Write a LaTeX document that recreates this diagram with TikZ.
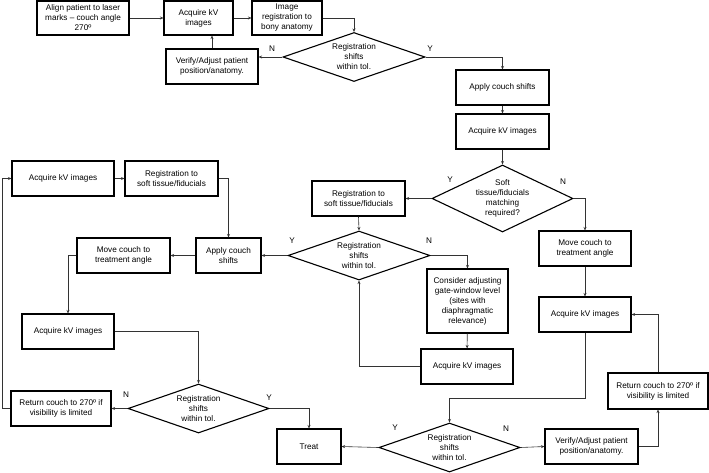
\documentclass[tikz,border=0pt]{standalone}
\usepackage{fontspec}
\setmainfont{Liberation Sans}
\usetikzlibrary{shapes.geometric,arrows.meta}
\begin{document}
\begin{tikzpicture}[x=1pt,y=-1pt,
  every node/.style={font=\fontsize{8.2}{10}\selectfont},
  box/.style={draw=black,line width=1.1pt,rectangle,align=center,inner sep=1pt},
  dec/.style={draw=black,line width=1.1pt,diamond,align=center,inner sep=0pt,aspect=2.8},
  conn/.style={draw=black!80,line width=0.6pt,-{Stealth[length=3.5pt,width=3pt]}},
  lab/.style={inner sep=0pt}]
\useasboundingbox (0,0) rectangle (709,472);
% top row
\node[box,minimum width=92pt,minimum height=34pt] (align) at (83,18) {Align patient to laser\\marks -- couch angle\\270º};
\node[box,minimum width=69pt,minimum height=34pt] (acq1) at (198.5,18) {Acquire kV\\images};
\node[box,minimum width=70pt,minimum height=34pt] (imreg) at (287,18) {Image\\registration to\\bony anatomy};
\node[dec,minimum width=142pt,minimum height=49pt] (dia1) at (354,57) {Registration\\shifts\\within tol.};
\node[box,minimum width=92pt,minimum height=35pt] (verify1) at (212,66.5) {Verify/Adjust patient\\position/anatomy.};
\node[box,minimum width=93pt,minimum height=35pt] (apply1) at (502.5,87.5) {Apply couch shifts};
\node[box,minimum width=93pt,minimum height=35pt] (acq2) at (502.5,131.5) {Acquire kV images};
\node[dec,aspect=2.1,minimum width=141pt,minimum height=67pt] (dia2) at (502.5,198.5) {Soft\\tissue/fiducials\\matching\\required?};
\node[box,minimum width=93pt,minimum height=35pt] (regsoft1) at (358.5,198.5) {Registration to\\soft tissue/fiducials};
\node[box,minimum width=92pt,minimum height=35pt] (move1) at (585,248.5) {Move couch to\\treatment angle};
\node[dec,minimum width=142pt,minimum height=49pt] (dia3) at (359,255.5) {Registration\\shifts\\within tol.};
\node[box,minimum width=81pt,minimum height=64pt] (consider) at (467.5,301) {Consider adjusting\\gate-window level\\(sites with\\diaphragmatic\\relevance)};
\node[box,minimum width=92pt,minimum height=35pt] (acq3) at (585,314.5) {Acquire kV images};
\node[box,minimum width=92pt,minimum height=35pt] (acq4) at (467,366.5) {Acquire kV images};
\node[dec,minimum width=141pt,minimum height=49pt] (dia4) at (449.5,447.5) {Registration\\shifts\\within tol.};
\node[box,minimum width=64pt,minimum height=35pt] (treat) at (309,446.5) {Treat};
\node[box,minimum width=93pt,minimum height=35pt] (verify2) at (591.5,446.5) {Verify/Adjust patient\\position/anatomy.};
\node[box,minimum width=100pt,minimum height=36pt] (return2) at (658,391) {Return couch to 270º if\\visibility is limited};
% left side
\node[box,minimum width=102pt,minimum height=35pt] (acqL1) at (63,178.5) {Acquire kV images};
\node[box,minimum width=93pt,minimum height=35pt] (regL) at (171.5,178.5) {Registration to\\soft tissue/fiducials};
\node[box,minimum width=65pt,minimum height=35pt] (applyL) at (228.5,255.5) {Apply couch\\shifts};
\node[box,minimum width=93pt,minimum height=35pt] (moveL) at (123.5,255.5) {Move couch to\\treatment angle};
\node[box,minimum width=92pt,minimum height=35pt] (acqL2) at (68,331.5) {Acquire kV images};
\node[dec,minimum width=141pt,minimum height=49pt] (dia5) at (198.5,408.5) {Registration\\shifts\\within tol.};
\node[box,minimum width=100pt,minimum height=35pt] (returnL) at (61,408.5) {Return couch to 270º if\\visibility is limited};
% helper coordinates
\coordinate (k1) at (585,398);
\coordinate (k2) at (2,408.5);
% connectors
\draw[conn] (align) -- (acq1);
\draw[conn] (acq1) -- (imreg);
\draw[conn] (imreg.east) -| (dia1.north);
\draw[conn] (dia1.west) -- (dia1.west -| verify1.east);
\draw[conn] (verify1.north) -- (verify1.north |- acq1.south);
\draw[conn] (dia1.east) -| (apply1.north);
\draw[conn] (apply1) -- (acq2);
\draw[conn] (acq2) -- (dia2);
\draw[conn] (dia2.west) -- (regsoft1.east);
\draw[conn] (dia2.east) -| (move1.north);
\draw[conn] (move1) -- (acq3);
\draw[conn] (regsoft1.south) -- (dia3.north);
\draw[conn] (dia3.east) -| (consider.north);
\draw[conn] (consider) -- (acq4);
\draw[conn] (acq4.west) -| (dia3.south);
\draw[conn] (acq3.south) -- (k1) -| (dia4.north);
\draw[conn] (dia4.west) -- (treat.east);
\draw[conn] (dia4.east) -- (verify2.west);
\draw[conn] (verify2.east) -| (return2.south);
\draw[conn] (return2.north) |- (acq3.east);
\draw[conn] (dia3.west) -- (applyL.east);
\draw[conn] (regL.east) -| (applyL.north);
\draw[conn] (acqL1) -- (regL);
\draw[conn] (applyL) -- (moveL);
\draw[conn] (moveL.west) -| (acqL2.north);
\draw[conn] (acqL2.east) -| (dia5.north);
\draw[conn] (dia5.west) -- (returnL.east);
\draw[conn] (returnL.west) -- (k2) |- (acqL1.west);
\draw[conn] (dia5.east) -| (treat.north);
% labels
\node[lab] (n1) at (272,49) {N};
\node[lab] (y1) at (430,49) {Y};
\node[lab] (y2) at (450,180) {Y};
\node[lab] (n2) at (563,182) {N};
\node[lab] (y3) at (292,241) {Y};
\node[lab] (n3) at (429,241) {N};
\node[lab] (y4) at (395,428) {Y};
\node[lab] (n4) at (506,429) {N};
\node[lab] (n5) at (126,395) {N};
\node[lab] (y5) at (269,398) {Y};
\end{tikzpicture}
\end{document}
